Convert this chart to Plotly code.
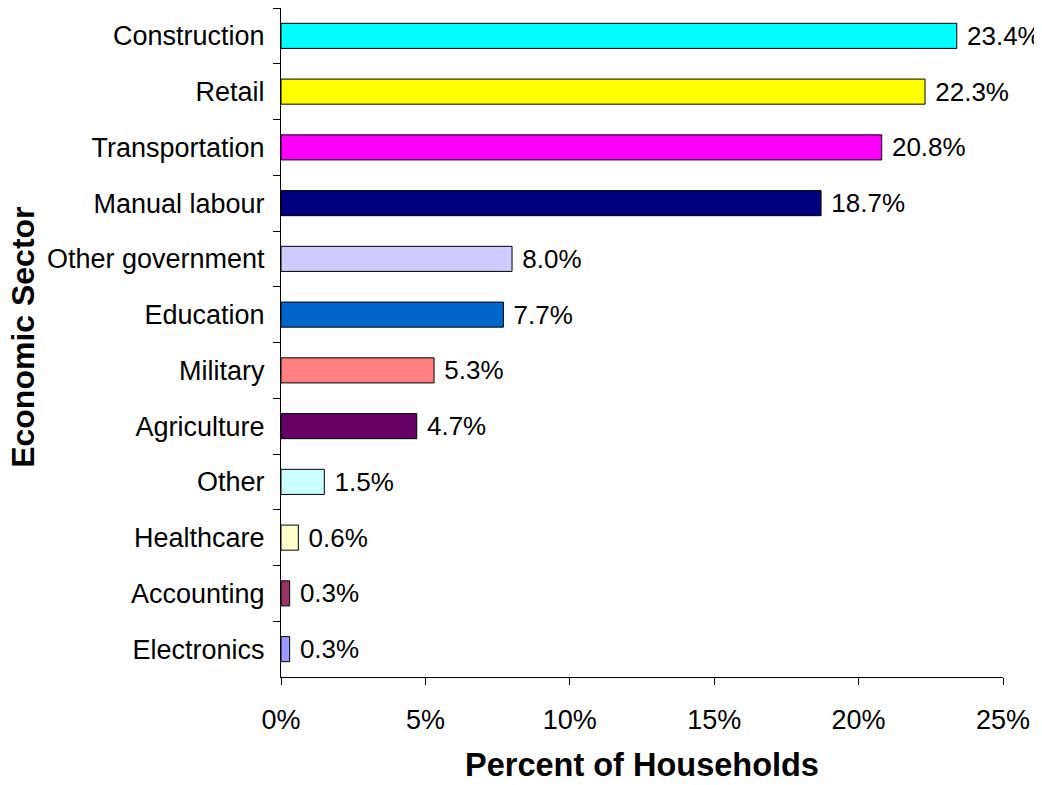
import plotly.graph_objects as go

sectors = ["Construction", "Retail", "Transportation", "Manual labour", "Other government",
           "Education", "Military", "Agriculture", "Other", "Healthcare", "Accounting", "Electronics"]
shares = [0.234, 0.223, 0.208, 0.187, 0.080, 0.077, 0.053, 0.047, 0.015, 0.006, 0.003, 0.003]
colors = ["#00FFFF", "#FFFF00", "#FF00FF", "#000080", "#CCCCFF", "#0066CC",
          "#FF8080", "#660066", "#CCFFFF", "#FFFFCC", "#993366", "#9999FF"]
x_ticks = [0, 0.05, 0.10, 0.15, 0.20, 0.25]

fig = go.Figure(go.Bar(
    x=shares,
    y=sectors,
    orientation="h",
    marker=dict(color=colors, line=dict(color="#000000", width=1)),
    texttemplate="\u00a0%{x:.1%}",
    textposition="outside",
    constraintext="none",
    textfont=dict(size=26, color="#000000"),
    cliponaxis=False,
))

# page body adds an 8px offset, so the figure is a bit smaller than the window
fig.update_layout(
    width=1034, height=777,
    font=dict(family="Liberation Sans, Arial, sans-serif", size=27, color="#000000"),
    plot_bgcolor="#FFFFFF",
    paper_bgcolor="#FFFFFF",
    margin=dict(l=273, r=39, t=0, b=108),
    bargap=0.55,
    showlegend=False,
)
fig.update_xaxes(
    range=[0, 0.25], tickvals=x_ticks, tickformat=".0%",
    showline=True, linecolor="#000000", linewidth=1,
    ticks="outside", ticklen=7, tickcolor="#000000",
    showgrid=False, zeroline=False, automargin=False,
    ticklabeloverflow="allow", ticklabelstandoff=12,
)
fig.update_yaxes(
    autorange="reversed", tickson="boundaries",
    showline=True, linecolor="#000000", linewidth=1,
    ticks="outside", ticklen=7, tickcolor="#000000",
    showgrid=False, automargin=False, ticklabelstandoff=10,
)

# axis titles
fig.add_annotation(text="<b>Percent of Households</b>", xref="paper", yref="paper",
                   x=0.5, y=-0.1315, xanchor="center", yanchor="middle",
                   showarrow=False, font=dict(size=32.5), borderpad=0)
fig.add_annotation(text="<b>Economic Sector</b>", xref="paper", yref="paper",
                   x=-0.3573, y=0.507, xanchor="center", yanchor="middle",
                   textangle=-90, showarrow=False, font=dict(size=32), borderpad=0)

fig.write_html("out.html")
